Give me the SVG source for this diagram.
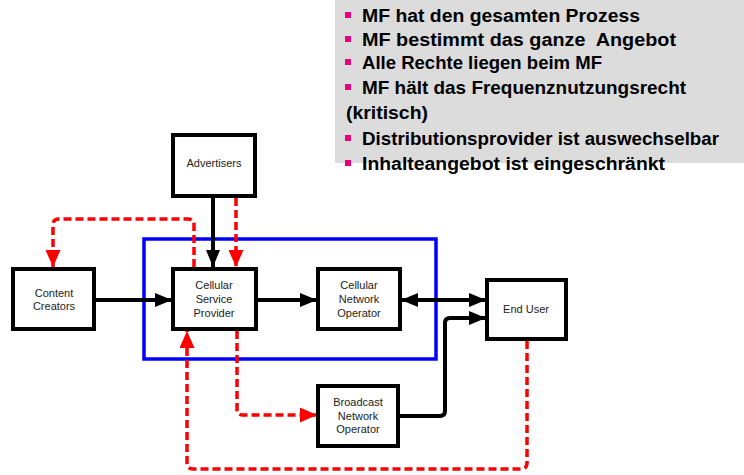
<svg xmlns="http://www.w3.org/2000/svg" width="744" height="475" viewBox="0 0 744 475">
  <style>
    .box { fill: #ffffff; stroke: #000000; stroke-width: 4; }
    .lbl { font-family: "Liberation Sans", Arial, sans-serif; font-size: 11px; fill: #222222; text-anchor: middle; }
    .blk { fill: none; stroke: #000000; stroke-width: 4; stroke-linejoin: round; }
    .red { fill: none; stroke: #ff0000; stroke-width: 3.5; stroke-dasharray: 8 4; stroke-linejoin: round; }
    .note { font-family: "Liberation Sans", Arial, sans-serif; font-size: 18px; font-weight: bold; fill: #000000; }
    .bullet { fill: #e8007d; }
  </style>
  <defs>
    <marker id="ahBlack" markerUnits="userSpaceOnUse" markerWidth="18" markerHeight="14" refX="17" refY="7" orient="auto-start-reverse">
      <path d="M0,0 L17,7 L0,14 z" fill="#000000"/>
    </marker>
    <marker id="ahRed" markerUnits="userSpaceOnUse" markerWidth="18" markerHeight="15" refX="17" refY="7.5" orient="auto">
      <path d="M0,0 L17,7.5 L0,15 z" fill="#ff0000"/>
    </marker>
  </defs>

  <!-- notes panel -->
  <g id="notes">
    <rect x="335" y="0" width="409" height="163" fill="#dcdcdc"/>
    <rect class="bullet" x="345" y="12" width="6" height="6"/>
    <text class="note" x="362" y="22" textLength="278" lengthAdjust="spacingAndGlyphs">MF hat den gesamten Prozess</text>
    <rect class="bullet" x="345" y="36" width="6" height="6"/>
    <text class="note" x="362" y="46" textLength="314" lengthAdjust="spacingAndGlyphs" xml:space="preserve">MF bestimmt das ganze  Angebot</text>
    <rect class="bullet" x="345" y="59" width="6" height="6"/>
    <text class="note" x="362" y="69" textLength="240" lengthAdjust="spacingAndGlyphs">Alle Rechte liegen beim MF</text>
    <rect class="bullet" x="345" y="84" width="6" height="6"/>
    <text class="note" x="362" y="94" textLength="324" lengthAdjust="spacingAndGlyphs">MF hält das Frequenznutzungsrecht</text>
    <text class="note" x="346" y="119" textLength="82" lengthAdjust="spacingAndGlyphs">(kritisch)</text>
    <rect class="bullet" x="345" y="135" width="6" height="6"/>
    <text class="note" x="362" y="145" textLength="357" lengthAdjust="spacingAndGlyphs">Distributionsprovider ist auswechselbar</text>
    <rect class="bullet" x="345" y="160" width="6" height="6"/>
    <text class="note" x="362" y="170" textLength="303" lengthAdjust="spacingAndGlyphs">Inhalteangebot ist eingeschränkt</text>
  </g>

  <!-- mobile operator boundary -->
  <rect id="operator-boundary" x="144" y="239" width="292" height="120" fill="none" stroke="#0000ff" stroke-width="3.5"/>

  <g id="connectors">
    <!-- money / content flows (solid) -->
    <line class="blk" x1="213" y1="197" x2="213" y2="267" marker-end="url(#ahBlack)"/>
    <line class="blk" x1="95" y1="300" x2="172" y2="300" marker-end="url(#ahBlack)"/>
    <line class="blk" x1="257" y1="300" x2="317" y2="300" marker-end="url(#ahBlack)"/>
    <line class="blk" x1="401" y1="300" x2="486" y2="300" marker-start="url(#ahBlack)" marker-end="url(#ahBlack)"/>
    <path class="blk" d="M399,416 L440,416 Q445,416 445,411 L445,323 Q445,318 450,318 L486,318" marker-end="url(#ahBlack)"/>

    <!-- rights / control flows (dashed) -->
    <line class="red" x1="236" y1="198" x2="236" y2="267" marker-end="url(#ahRed)"/>
    <path class="red" d="M194,267 L194,225 Q194,219 188,219 L59,219 Q53,219 53,225 L53,267" marker-end="url(#ahRed)"/>
    <path class="red" d="M237,331 L237,409 Q237,415 243,415 L317,415" marker-end="url(#ahRed)"/>
    <path class="red" d="M527,341 L527,463 Q527,469 521,469 L193,469 Q187,469 187,463 L187,331" marker-end="url(#ahRed)"/>
  </g>

  <g id="advertisers">
    <rect class="box" x="173" y="135" width="82" height="61"/>
    <text class="lbl" x="214" y="167">Advertisers</text>
  </g>
  <g id="content-creators">
    <rect class="box" x="13" y="269" width="81" height="60"/>
    <text class="lbl" x="54" y="297">Content</text>
    <text class="lbl" x="54" y="310">Creators</text>
  </g>
  <g id="cellular-service-provider">
    <rect class="box" x="173" y="269" width="83" height="60"/>
    <text class="lbl" x="214" y="289">Cellular</text>
    <text class="lbl" x="214" y="303">Service</text>
    <text class="lbl" x="214" y="317">Provider</text>
  </g>
  <g id="cellular-network-operator">
    <rect class="box" x="318" y="269" width="82" height="60"/>
    <text class="lbl" x="359" y="289">Cellular</text>
    <text class="lbl" x="359" y="303">Network</text>
    <text class="lbl" x="359" y="317">Operator</text>
  </g>
  <g id="end-user">
    <rect class="box" x="487" y="280" width="79" height="59"/>
    <text class="lbl" x="526" y="313">End User</text>
  </g>
  <g id="broadcast-network-operator">
    <rect class="box" x="318" y="386" width="80" height="60"/>
    <text class="lbl" x="358" y="406">Broadcast</text>
    <text class="lbl" x="358" y="420">Network</text>
    <text class="lbl" x="358" y="433">Operator</text>
  </g>
</svg>
